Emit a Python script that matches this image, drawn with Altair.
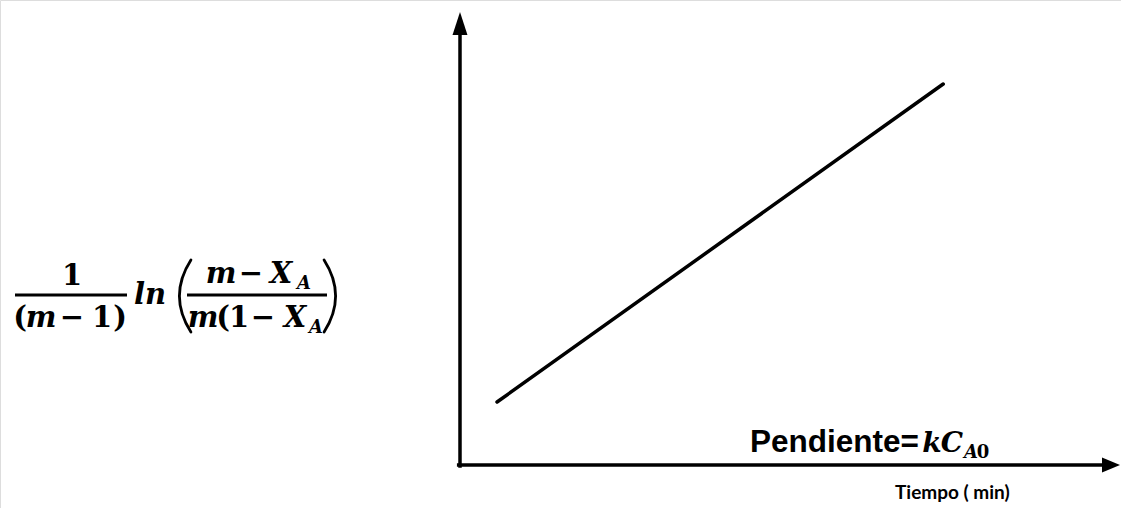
import altair as alt
import pandas as pd

# Straight-line trend: time vs. linearised conversion function
time_pts = [0.56, 7.31]
func_pts = [1.39, 8.41]

# Axis extents (arrowed axes, no ticks)
x_axis_end = 9.8
y_axis_end = 9.6
x_arrow_tip = 9.985
y_arrow_tip = 10.0

W, H = 1121, 508
xs = alt.Scale(domain=[0, 10], range=[460, 1121])
ys = alt.Scale(domain=[0, 10], range=[465, 12])

SERIF = "DejaVu Serif"
SANS = "Liberation Sans"

line_df = pd.DataFrame({"t": time_pts, "f": func_pts})
trend = alt.Chart(line_df).mark_line(
    color="black", strokeWidth=3.5, strokeCap="round"
).encode(
    x=alt.X("t:Q", scale=xs, axis=None),
    y=alt.Y("f:Q", scale=ys, axis=None),
)

x_axis = alt.Chart(pd.DataFrame({"x0": [-0.02], "x1": [x_axis_end], "y": [0.0]})).mark_rule(
    color="black", strokeWidth=3.5, strokeCap="square"
).encode(
    x=alt.X("x0:Q", scale=xs, axis=None), x2="x1:Q",
    y=alt.Y("y:Q", scale=ys, axis=None),
)
y_axis = alt.Chart(pd.DataFrame({"y0": [-0.02], "y1": [y_axis_end], "x": [0.0]})).mark_rule(
    color="black", strokeWidth=3.5, strokeCap="square"
).encode(
    y=alt.Y("y0:Q", scale=ys, axis=None), y2="y1:Q",
    x=alt.X("x:Q", scale=xs, axis=None),
)

up_head = alt.Chart(pd.DataFrame({"x": [0.0], "y": [y_arrow_tip]})).mark_point(
    shape="M0,0L0.65,2L-0.65,2Z", size=529, filled=True, color="black", opacity=1
).encode(x=alt.X("x:Q", scale=xs, axis=None), y=alt.Y("y:Q", scale=ys, axis=None))

right_head = alt.Chart(pd.DataFrame({"x": [x_arrow_tip], "y": [0.0]})).mark_point(
    shape="M0,0L-2,-0.83L-2,0.83Z", size=324, filled=True, color="black", opacity=1
).encode(x=alt.X("x:Q", scale=xs, axis=None), y=alt.Y("y:Q", scale=ys, axis=None))


def label(text, x, y, size, font=SERIF, style="normal", weight="bold", align="center"):
    return alt.Chart(pd.DataFrame({"s": [text]})).mark_text(
        font=font, fontSize=size, fontStyle=style, fontWeight=weight,
        align=align, baseline="alphabetic", color="black",
    ).encode(text="s:N", x=alt.value(x), y=alt.value(y))


def bar(x0, x1, y):
    return alt.Chart(pd.DataFrame({"d": [0]})).mark_rule(
        color="black", strokeWidth=3
    ).encode(x=alt.value(x0), x2=alt.value(x1), y=alt.value(y))


def big_paren(x, y, path):
    # tall delimiter drawn as a stroked curve symbol
    return alt.Chart(pd.DataFrame({"d": [0]})).mark_point(
        shape=path, size=5184, filled=False, color="black",
        strokeWidth=2.8, opacity=1, strokeCap="round",
    ).encode(x=alt.value(x), y=alt.value(y))


LEFT_PAREN = "M0.22,-1Q-0.42,0 0.22,1"
RIGHT_PAREN = "M-0.22,-1Q0.42,0 -0.22,1"

FS = 29
SUB = 18
formula = [
    # 1 / (m - 1)
    label("1", 72, 285, FS),
    bar(15, 127, 295),
    label("(", 20, 327, FS),
    label("m", 41, 327, FS, style="italic"),
    label("−", 72, 327, FS),
    label("1", 102, 327, FS),
    label(")", 120, 327, FS),
    # ln
    label("ln", 150, 304, FS, style="italic"),
    # big parentheses
    big_paren(183, 296, LEFT_PAREN),
    big_paren(332, 296, RIGHT_PAREN),
    # (m - X_A) / (m(1 - X_A))
    label("m", 221, 283, FS, style="italic"),
    label("−", 251, 283, FS),
    label("X", 281, 283, FS, style="italic"),
    label("A", 304, 289, SUB, style="italic"),
    bar(187, 327, 295),
    label("m", 203, 327, FS, style="italic"),
    label("(", 223, 327, FS),
    label("1", 239, 327, FS),
    label("−", 263, 327, FS),
    label("X", 295, 327, FS, style="italic"),
    label("A", 316, 333, SUB, style="italic"),
]

slope = [
    label("Pendiente=", 750, 452, 31.5, font=SANS, align="left"),
    label("k", 932, 452, 28, style="italic"),
    label("C", 952, 452, 28, style="italic"),
    label("A", 971, 458, 18, style="italic"),
    label("0", 983, 458, 18),
]

x_title = label("Tiempo ( min)", 895, 499, 19, font="Lato", align="left")

chart = alt.layer(
    x_axis, y_axis, up_head, right_head, trend, *formula, *slope, x_title
).properties(
    width=W, height=H, padding=0, autosize=alt.AutoSizeParams(type="none")
).configure_view(stroke=None).configure(background="white")

chart.save("out.html", embed_options={"renderer": "svg", "actions": False})
